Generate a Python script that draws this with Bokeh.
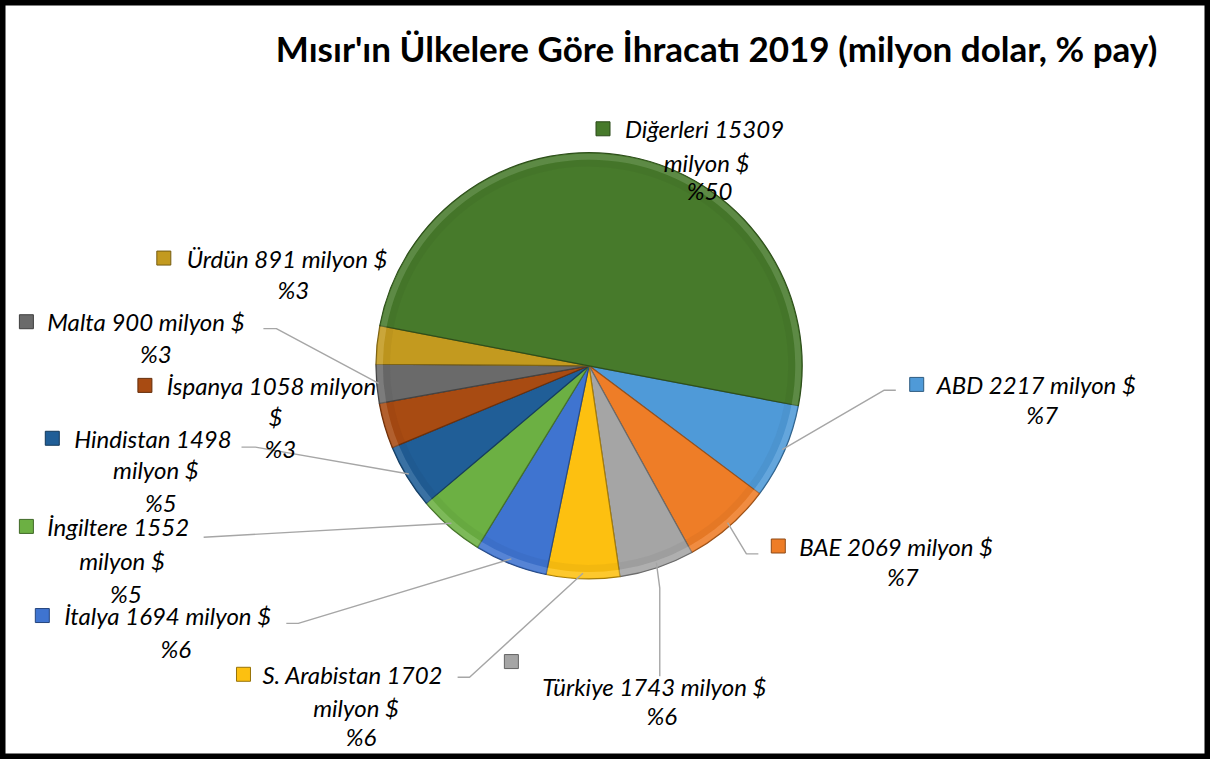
import math
from bokeh.plotting import figure
from bokeh.models import Range1d, ColumnDataSource
from bokeh.core.properties import value
from bokeh.embed import file_html
from bokeh.resources import INLINE

# ---- data ----
countries = ["ABD", "BAE", "Türkiye", "S. Arabistan", "İtalya", "İngiltere",
             "Hindistan", "İspanya", "Malta", "Ürdün", "Diğerleri"]
values_musd = [2217, 2069, 1743, 1702, 1694, 1552, 1498, 1058, 900, 891, 15309]
shares_pct = [7, 7, 6, 6, 6, 5, 5, 3, 3, 3, 50]
colors = ["#4F9AD8", "#EE7D27", "#A5A5A5", "#FDC010", "#3F74D0", "#6CB043",
          "#205E97", "#A84B12", "#6A6A6A", "#C39A1F", "#477A2B"]
title_text = "Mısır'ın Ülkelere Göre İhracatı 2019 (milyon dolar, % pay)"

# ---- layout (reference pixel coordinates) ----
CX, CY, R = 597, 373, 214
START_DEG = -10.8
FONT = "Lato"

# label layout: marker centre, first-line left x / y, word break, other line centres
label_layout = {
    "Diğerleri":    dict(m=(611, 131), l1=(633, 131), brk=2, rest=[(715, 165), (718, 194)]),
    "ABD":          dict(m=(926, 392), l1=(946, 392), brk=4, rest=[(1052, 423)]),
    "BAE":          dict(m=(787, 557), l1=(808, 557), brk=4, rest=[(912, 588)]),
    "Türkiye":      dict(m=(519, 675), l1=(550, 700), brk=4, rest=[(670, 730)]),
    "S. Arabistan": dict(m=(250, 688), l1=(269, 688), brk=3, rest=[(363, 722), (368, 752)]),
    "İtalya":       dict(m=(48, 628), l1=(70, 628), brk=4, rest=[(182, 662)]),
    "İngiltere":    dict(m=(32, 537), l1=(53, 537), brk=2, rest=[(128, 572), (132, 605)]),
    "Hindistan":    dict(m=(58, 447), l1=(80, 447), brk=2, rest=[(162, 479), (167, 513)]),
    "İspanya":      dict(m=(151, 393), l1=(173, 393), brk=3, rest=[(282, 425), (287, 457)]),
    "Malta":        dict(m=(32, 328), l1=(53, 328), brk=4, rest=[(162, 360)]),
    "Ürdün":        dict(m=(170, 263), l1=(193, 263), brk=4, rest=[(300, 295)]),
}
leader_layout = {
    "ABD": [(905, 398), (893, 398)],
    "BAE": [(767, 565), (755, 565)],
    "Türkiye": [(668, 690), (668, 600)],
    "S. Arabistan": [(465, 691), (477, 691)],
    "İtalya": [(293, 636), (305, 636)],
    "İngiltere": [(210, 548)],
    "Hindistan": [(248, 456), (262, 456)],
    "Malta": [(270, 335), (283, 335)],
}


def shade(hexc, f):
    hexc = hexc.lstrip("#")
    rgb = [int(hexc[i:i + 2], 16) for i in (0, 2, 4)]
    if f >= 0:
        rgb = [int(c + (255 - c) * f) for c in rgb]
    else:
        rgb = [int(c * (1 + f)) for c in rgb]
    return "#%02x%02x%02x" % tuple(rgb)


p = figure(width=1210, height=759, output_backend="svg", toolbar_location=None,
           x_range=Range1d(6, 1221), y_range=Range1d(-775, 0),
           min_border=0)
p.axis.visible = False
p.grid.visible = False
p.background_fill_color = "white"
p.border_fill_color = "white"
p.outline_line_color = "black"
p.outline_line_width = 10

# ---- pie wedges ----
total = sum(values_musd)
starts, ends, mids = [], [], []
a = START_DEG
for v in values_musd:
    sweep = v / total * 360.0
    starts.append(math.radians(a - sweep))
    ends.append(math.radians(a))
    mids.append(math.radians(a - sweep / 2))
    a -= sweep

src = ColumnDataSource(dict(start=starts, end=ends, color=colors,
                            edge=[shade(c, -0.35) for c in colors],
                            light=[shade(c, 0.35) for c in colors],
                            dark=[shade(c, -0.25) for c in colors]))
p.wedge(x=CX, y=-CY, radius=R, start_angle="start", end_angle="end",
        fill_color="color", line_color="edge", line_width=1.2, source=src)
# bevel imitation: lighter outer rim and darker inner band
p.annular_wedge(x=CX, y=-CY, inner_radius=R - 7, outer_radius=R - 1,
                start_angle="start", end_angle="end", fill_color="light",
                fill_alpha=0.35, line_color=None, source=src)
p.annular_wedge(x=CX, y=-CY, inner_radius=R - 14, outer_radius=R - 7,
                start_angle="start", end_angle="end", fill_color="dark",
                fill_alpha=0.15, line_color=None, source=src)

# ---- leader lines ----
for name, pts in leader_layout.items():
    i = countries.index(name)
    ex = CX + (R - 2) * math.cos(mids[i])
    ey = CY - (R - 2) * math.sin(mids[i])
    xs = [q[0] for q in pts] + [ex]
    ys = [-q[1] for q in pts] + [-ey]
    p.line(xs, ys, line_color="#A6A6A6", line_width=1.4)

# ---- labels ----
mx, my, mc, ml = [], [], [], []
tx, ty, tt, ta = [], [], [], []
for name, v, s, c in zip(countries, values_musd, shares_pct, colors):
    lay = label_layout[name]
    words = f"{name} {v} milyon $".split(" ")
    lines = [" ".join(words[:lay["brk"]])]
    if lay["brk"] < len(words):
        lines.append(" ".join(words[lay["brk"]:]))
    lines.append(f"%{s}")
    mx.append(lay["m"][0]); my.append(-lay["m"][1]); mc.append(c); ml.append(shade(c, -0.4))
    tx.append(lay["l1"][0]); ty.append(-lay["l1"][1]); tt.append(lines[0]); ta.append("left")
    for (lx, ly), txt in zip(lay["rest"], lines[1:]):
        tx.append(lx); ty.append(-ly); tt.append(txt); ta.append("center")

p.scatter(mx, my, marker="square", size=14, fill_color=mc, line_color=ml, line_width=1)
p.text(x=tx, y=ty, text=tt, text_align=ta, text_baseline="middle",
       text_font=value(FONT), text_font_style="italic", text_font_size="24px",
       text_color="black")

# ---- title ----
p.text(x=[725], y=[-48], text=[title_text], text_align="center", text_baseline="middle",
       text_font=value(FONT), text_font_style="bold", text_font_size="35px",
       text_color="black")

open("out.html", "w").write(file_html(p, INLINE))
